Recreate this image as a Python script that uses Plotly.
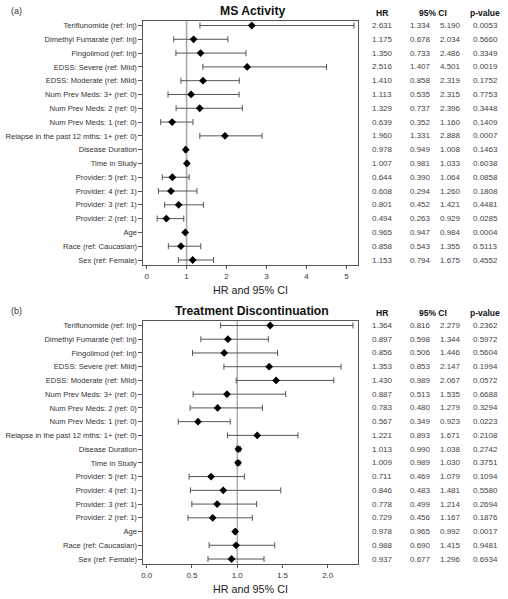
import plotly.graph_objects as go

labels = [
    "Teriflunomide (ref: Inj)",
    "Dimethyl Fumarate (ref: Inj)",
    "Fingolimod (ref: Inj)",
    "EDSS: Severe (ref: Mild)",
    "EDSS: Moderate (ref: Mild)",
    "Num Prev Meds: 3+ (ref: 0)",
    "Num Prev Meds: 2 (ref: 0)",
    "Num Prev Meds: 1 (ref: 0)",
    "Relapse in the past 12 mths: 1+ (ref: 0)",
    "Disease Duration",
    "Time in Study",
    "Provider: 5 (ref: 1)",
    "Provider: 4 (ref: 1)",
    "Provider: 3 (ref: 1)",
    "Provider: 2 (ref: 1)",
    "Age",
    "Race (ref: Caucasian)",
    "Sex (ref: Female)",
]

# Panel (a) MS Activity
a_hr = [2.631, 1.175, 1.350, 2.516, 1.410, 1.113, 1.329, 0.639, 1.960, 0.978, 1.007, 0.644, 0.608, 0.801, 0.494, 0.965, 0.858, 1.153]
a_lo = [1.334, 0.678, 0.733, 1.407, 0.858, 0.535, 0.737, 0.352, 1.331, 0.949, 0.981, 0.390, 0.294, 0.452, 0.263, 0.947, 0.543, 0.794]
a_hi = [5.190, 2.034, 2.486, 4.501, 2.319, 2.315, 2.396, 1.160, 2.888, 1.008, 1.033, 1.064, 1.260, 1.421, 0.929, 0.984, 1.355, 1.675]
a_p = ["0.0053", "0.5660", "0.3349", "0.0019", "0.1752", "0.7753", "0.3448", "0.1409", "0.0007", "0.1463", "0.6038", "0.0858", "0.1808", "0.4481", "0.0285", "0.0004", "0.5113", "0.4552"]

# Panel (b) Treatment Discontinuation
b_hr = [1.364, 0.897, 0.856, 1.353, 1.430, 0.887, 0.783, 0.567, 1.221, 1.013, 1.009, 0.711, 0.846, 0.778, 0.729, 0.978, 0.988, 0.937]
b_lo = [0.816, 0.598, 0.506, 0.853, 0.989, 0.513, 0.480, 0.349, 0.893, 0.990, 0.989, 0.469, 0.483, 0.499, 0.456, 0.965, 0.690, 0.677]
b_hi = [2.279, 1.344, 1.446, 2.147, 2.067, 1.535, 1.279, 0.923, 1.671, 1.038, 1.030, 1.079, 1.481, 1.214, 1.167, 0.992, 1.415, 1.296]
b_p = ["0.2362", "0.5972", "0.5604", "0.1994", "0.0572", "0.6688", "0.3294", "0.0223", "0.2108", "0.2742", "0.3751", "0.1094", "0.5580", "0.2694", "0.1876", "0.0017", "0.9481", "0.6934"]

a_xticks = [0, 1, 2, 3, 4, 5]
b_xticks = [0.0, 0.5, 1.0, 1.5, 2.0]

W, H = 508, 599
FONT = "Liberation Sans, Arial, sans-serif"
n = len(labels)
idx = list(range(n))


def px(X):
    return X / W


def py(Y):
    return 1 - Y / H


fig = go.Figure()

panels = [
    dict(hr=a_hr, lo=a_lo, hi=a_hi, p=a_p, xa="x", ya="y", top=21, bot=265,
         xr=[-0.08, 5.28], ticks=a_xticks, fmt="%d", title="MS Activity", tag="(a)",
         refcol="#a8a8a8", refw=1.6),
    dict(hr=b_hr, lo=b_lo, hi=b_hi, p=b_p, xa="x2", ya="y2", top=321, bot=564,
         xr=[-0.036, 2.33], ticks=b_xticks, fmt="%.1f", title="Treatment Discontinuation", tag="(b)",
         refcol="#888888", refw=1.0),
]

x_left, x_right = 142, 357
sp = (260 - 25.5) / (n - 1)
y_top_range = -4.5 / sp
y_bot_range = (n - 1) + 5 / sp

annotations = []
shapes = []
for k, P in enumerate(panels):
    fig.add_trace(go.Scatter(
        x=P["hr"], y=idx, mode="markers",
        marker=dict(symbol="diamond", size=6, color="black"),
        error_x=dict(type="data", symmetric=False,
                     array=[h - m for h, m in zip(P["hi"], P["hr"])],
                     arrayminus=[m - l for m, l in zip(P["hr"], P["lo"])],
                     color="#555555", thickness=1, width=3),
        xaxis=P["xa"], yaxis=P["ya"], showlegend=False, hoverinfo="skip",
    ))
    xname = "xaxis" if k == 0 else "xaxis2"
    yname = "yaxis" if k == 0 else "yaxis2"
    fig.update_layout(**{
        xname: dict(domain=[px(x_left), px(x_right)], anchor=P["ya"], range=P["xr"],
                    showgrid=False, zeroline=False, showline=True, mirror=True,
                    linecolor="#555555", linewidth=1, ticks="outside", ticklen=3,
                    tickcolor="#555555", tickvals=P["ticks"],
                    ticktext=[(P["fmt"] % t) for t in P["ticks"]],
                    tickfont=dict(size=8, color="#333333", family=FONT),
                    title=dict(text="HR and 95% CI", font=dict(size=10.8, color="#222222", family=FONT), standoff=6)),
        yname: dict(domain=[py(P["bot"]), py(P["top"])], anchor=P["xa"],
                    range=[y_bot_range, y_top_range], showgrid=False, zeroline=False,
                    showline=True, mirror=True, linecolor="#555555", linewidth=1,
                    ticks="outside", ticklen=4, tickcolor="#555555",
                    tickvals=idx, ticktext=labels,
                    tickfont=dict(size=7.6, color="#333333", family=FONT)),
    })
    shapes.append(dict(type="line", xref=P["xa"], yref=P["ya"] + " domain",
                       x0=1, x1=1, y0=0, y1=1, layer="below",
                       line=dict(color=P["refcol"], width=P["refw"])))
    # titles
    annotations.append(dict(text="<b>" + P["title"] + "</b>", xref="paper", yref="paper",
                            x=px(251), y=py(P["top"] - 10.5), showarrow=False,
                            xanchor="center", yanchor="middle",
                            font=dict(size=12.2, color="#111111", family=FONT)))
    annotations.append(dict(text=P["tag"], xref="paper", yref="paper",
                            x=px(7), y=py(P["top"] - 10), showarrow=False,
                            xanchor="left", yanchor="middle",
                            font=dict(size=9, color="#333333", family=FONT)))
    # table headers
    for txt, cx in [("HR", 382), ("95% CI", 433), ("p-value", 485)]:
        annotations.append(dict(text="<b>" + txt + "</b>", xref="paper", yref="paper",
                                x=px(cx), y=py(P["top"] - 8), showarrow=False,
                                xanchor="center", yanchor="middle",
                                font=dict(size=8.5, color="#111111", family=FONT)))
    # table rows
    for i in idx:
        for val, cx in [("%.3f" % P["hr"][i], 382), ("%.3f" % P["lo"][i], 420),
                        ("%.3f" % P["hi"][i], 450), (P["p"][i], 485)]:
            annotations.append(dict(text=val, xref="paper", yref=P["ya"],
                                    x=px(cx), y=i, showarrow=False,
                                    xanchor="center", yanchor="middle",
                                    font=dict(size=8, color="#444444", family=FONT)))

fig.update_layout(
    width=W, height=H, margin=dict(l=0, r=0, t=0, b=0),
    paper_bgcolor="white", plot_bgcolor="white",
    annotations=annotations, shapes=shapes,
    font=dict(family=FONT),
)

fig.write_html("out.html", config={"displayModeBar": False},
               post_script="document.body.style.margin='0';document.body.style.overflow='hidden';")
